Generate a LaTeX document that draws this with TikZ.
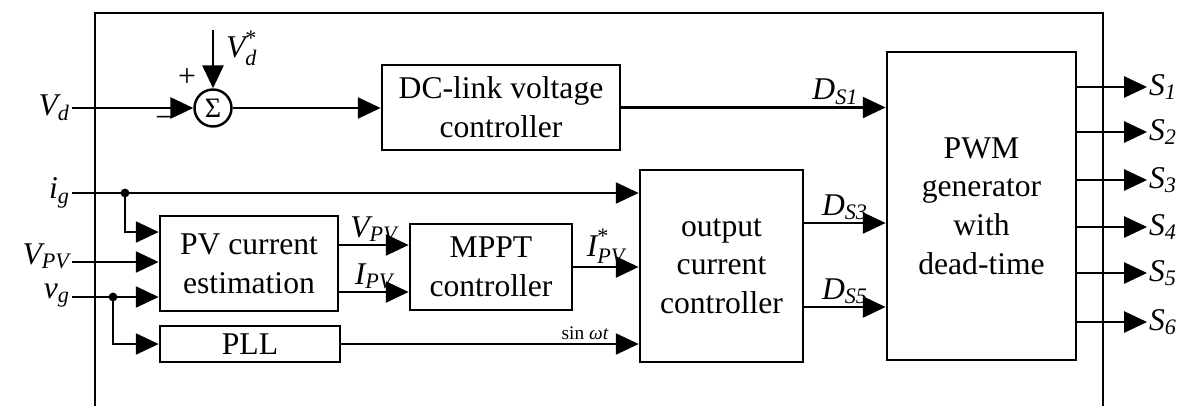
\documentclass[tikz,border=0pt]{standalone}
\usepackage{amsmath}
\usepackage{fontspec}
\setmainfont{Liberation Serif}
\usetikzlibrary{arrows.meta,calc,positioning}
\newcommand{\blkfont}{\fontsize{18}{22}\selectfont}
\newcommand{\sg}[2]{$\textit{#1}_{\textit{#2}}$}
\newcommand{\sgref}[2]{$\textit{#1}_{\textit{#2}}^{\textup{*}}$}

\begin{document}
\begin{tikzpicture}[x=0.02cm, y=-0.02cm,
    blk/.style={draw, line width=1.6pt, align=center, inner sep=0pt, font=\blkfont},
    arrow/.style={-{Triangle[length=13pt,width=12pt]}, line width=1.2pt},
    lbl/.style={font=\blkfont, inner sep=1pt}
]
\useasboundingbox (0,0) rectangle (1202,406);

% frame
\draw[line width=1.5pt] (95,406) -- (95,13) -- (1103,13) -- (1103,406);

% blocks
\node[blk, minimum width=4.76cm, minimum height=1.7cm] (dc) at (501,107.5) {DC-link voltage\\controller};
\node[blk, minimum width=3.78cm, minimum height=6.16cm] (pwm) at (981.5,206) {PWM\\generator\\with\\dead-time};
\node[blk, minimum width=3.26cm, minimum height=3.84cm] (occ) at (721.5,266) {output\\current\\controller};
\node[blk, minimum width=3.56cm, minimum height=1.9cm] (pve) at (249,263.5) {PV current\\estimation};
\node[blk, minimum width=3.24cm, minimum height=1.72cm] (mppt) at (491,267) {MPPT\\controller};
\node[blk, minimum width=3.6cm, minimum height=0.72cm] (pll) at (250,344) {PLL};
\node[draw, circle, line width=1.4pt, minimum size=0.74cm, inner sep=0pt, font=\fontsize{16}{16}\selectfont] (sum) at (213,108) {Σ};

% voltage loop
\node[lbl, anchor=east] (vd) at (72,108) {\sg{V}{d}};
\coordinate (vdtop) at (213,30);
\node[lbl, anchor=west] (vdref) at (224,48) {\sgref{V}{d}};
\node[lbl] (plus) at (187,78) {+};
\node[lbl] (minus) at (165,120) {--};
\draw[arrow] (vdtop) -- (sum.north);
\draw[arrow] (vd.east) -- (sum.west);
\draw[arrow] (sum.east) -- (sum.east -| dc.west);
\draw[arrow] (dc.east) -- node[lbl, above, pos=0.81] {\sg{D}{S1}} (dc.east -| pwm.west);

% grid inputs
\node[lbl, anchor=east] (ig) at (72,193) {\sg{i}{g}};
\node[lbl, anchor=base east] (vpv) at (72,264) {\sg{V}{PV}};
\node[lbl, anchor=base east] (vg) at (72,298) {\sg{v}{g}};
\coordinate (igdot) at (125,193);
\coordinate (vgdot) at (113,297);
\draw[arrow] (ig.east) -- (ig.east -| occ.west);
\draw[arrow] ([yshift=0.04cm]vpv.base east) -- ([yshift=0.04cm]vpv.base east -| pve.west);
\draw[arrow] (vgdot -| vg.base east) -- (vgdot -| pve.west);
\fill (igdot) circle (2.5pt);
\fill (vgdot) circle (2.5pt);
\draw[arrow] (igdot) |- ([yshift=0.63cm]pve.west);
\draw[arrow] (vgdot) |- (pll.west);

% PV current and MPPT
\coordinate (vpvout) at ([yshift=0.37cm]pve.east);
\coordinate (ipvout) at ([yshift=-0.57cm]pve.east);
\draw[arrow] (vpvout) -- node[lbl, above] {\sg{V}{PV}} (vpvout -| mppt.west);
\draw[arrow] (ipvout) -- node[lbl, above] {\sg{I}{PV}} (ipvout -| mppt.west);
\draw[arrow] (mppt.east) -- node[lbl, above] {\sgref{I}{PV}} (mppt.east -| occ.west);
\draw[arrow] (pll.east) -- node[above, pos=0.82, inner sep=2pt, font=\fontsize{11}{11}\selectfont] {sin \textit{ωt}} (pll.east -| occ.west);

% duty ratios
\coordinate (ds3) at ([yshift=0.86cm]occ.east);
\coordinate (ds5) at ([yshift=-0.82cm]occ.east);
\draw[arrow] (ds3) -- node[lbl, above] {\sg{D}{S3}} (ds3 -| pwm.west);
\draw[arrow] (ds5) -- node[lbl, above] {\sg{D}{S5}} (ds5 -| pwm.west);

% gate signals
\foreach \i/\y in {1/87,2/132,3/180,4/227,5/273,6/322} {
  \node[lbl, anchor=west] (s\i) at (1147,\y) {\sg{S}{\i}};
  \draw[arrow] (pwm.east |- s\i) -- (s\i.west);
}

\end{tikzpicture}
\end{document}
